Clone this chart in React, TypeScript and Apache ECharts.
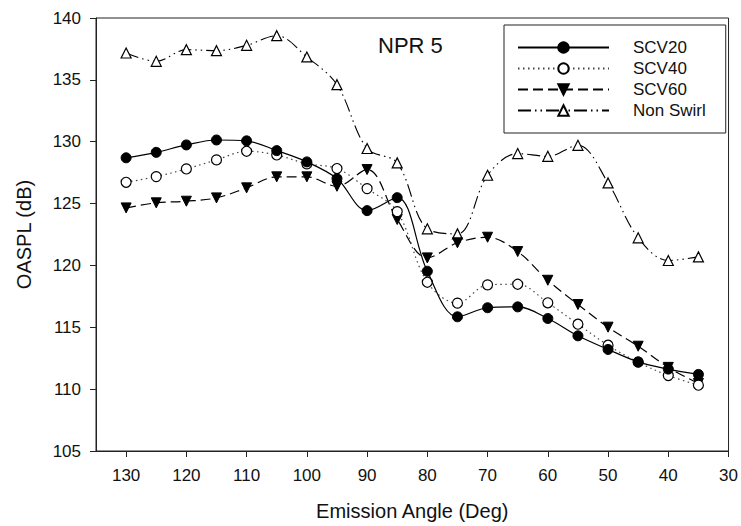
import React, { useEffect, useRef } from "react";
import * as echarts from "echarts";

const angles = [130, 125, 120, 115, 110, 105, 100, 95, 90, 85, 80, 75, 70, 65, 60, 55, 50, 45, 40, 35];
const scv20 = [128.7, 129.14, 129.74, 130.14, 130.07, 129.28, 128.37, 127.02, 124.43, 125.48, 119.53, 115.85, 116.58, 116.65, 115.71, 114.31, 113.21, 112.2, 111.62, 111.19];
const scv40 = [126.72, 127.18, 127.8, 128.53, 129.23, 128.93, 128.21, 127.83, 126.21, 124.35, 118.64, 116.95, 118.43, 118.48, 116.98, 115.25, 113.55, 112.18, 111.1, 110.32];
const scv60 = [124.65, 125.06, 125.19, 125.46, 126.27, 127.16, 127.16, 126.4, 127.75, 123.71, 120.61, 121.83, 122.28, 121.12, 118.8, 116.84, 115.01, 113.47, 111.76, 110.46];
const nonSwirl = [137.17, 136.5, 137.44, 137.36, 137.79, 138.57, 136.85, 134.61, 129.45, 128.29, 122.96, 122.55, 127.29, 129.04, 128.82, 129.71, 126.67, 122.23, 120.4, 120.69];
const xTicks = [130, 120, 110, 100, 90, 80, 70, 60, 50, 40, 30];
const seriesNames = ["SCV20", "SCV40", "SCV60", "Non Swirl"];

const FONT = "Liberation Sans, Arial, sans-serif";

export default function App() {
  const ref = useRef<HTMLDivElement>(null);
  useEffect(() => {
    if (!ref.current) return;
    const chart = echarts.init(ref.current, undefined, { renderer: "svg" });
    const pair = (vals: number[]) => angles.map((a, i) => [a, vals[i]]);
    const common = {
      type: "line",
      smooth: 0.35,
      symbolSize: 10,
      z: 3,
    };
    chart.setOption({
      animation: false,
      backgroundColor: "#fff",
      textStyle: { fontFamily: FONT },
      grid: {
        left: 96,
        top: 18,
        right: 12,
        bottom: 74,
        show: true,
        borderColor: "#222",
        borderWidth: 1,
      },
      title: {
        text: "NPR 5",
        left: 378,
        top: 34,
        padding: 0,
        textStyle: { fontFamily: FONT, fontSize: 22, fontWeight: "normal", color: "#111" },
      },
      legend: {
        orient: "vertical",
        left: 504,
        top: 25,
        padding: [14, 20, 14, 13],
        itemWidth: 91,
        itemHeight: 13,
        itemGap: 4,
        borderColor: "#222",
        borderWidth: 1,
        data: seriesNames,
        textStyle: { fontFamily: FONT, fontSize: 17, color: "#111", padding: [0, 0, 0, 19] },
      },
      xAxis: {
        type: "value",
        inverse: true,
        min: 30,
        max: 135,
        interval: 10,
        name: "Emission Angle (Deg)",
        nameLocation: "middle",
        nameGap: 50,
        nameTextStyle: { fontFamily: FONT, fontSize: 20, color: "#111" },
        splitLine: { show: false },
        axisLine: { lineStyle: { color: "#222", width: 1 } },
        axisTick: { show: true, length: 6, customValues: xTicks, lineStyle: { color: "#222" } },
        axisLabel: { customValues: xTicks, fontFamily: FONT, fontSize: 17, color: "#111", margin: 16 },
      },
      yAxis: {
        type: "value",
        min: 105,
        max: 140,
        interval: 5,
        name: "OASPL (dB)",
        nameLocation: "middle",
        nameGap: 62,
        nameTextStyle: { fontFamily: FONT, fontSize: 20, color: "#111" },
        splitLine: { show: false },
        axisLine: { show: true, lineStyle: { color: "#222", width: 1 } },
        axisTick: { show: true, length: 6, lineStyle: { color: "#222" } },
        axisLabel: { fontFamily: FONT, fontSize: 17, color: "#111", margin: 15 },
      },
      series: [
        {
          ...common,
          name: "SCV20",
          data: pair(scv20),
          symbol: "circle",
          itemStyle: { color: "#000", borderColor: "#000", borderWidth: 1 },
          lineStyle: { color: "#000", width: 1.2, type: "solid" },
          z: 5,
        },
        {
          ...common,
          name: "SCV40",
          data: pair(scv40),
          symbol: "circle",
          itemStyle: { color: "#fff", borderColor: "#000", borderWidth: 1.2 },
          lineStyle: { color: "#444", width: 1.2, type: [1.5, 3.5] },
          z: 4,
        },
        {
          ...common,
          name: "SCV60",
          data: pair(scv60),
          symbol: "triangle",
          symbolRotate: 180,
          itemStyle: { color: "#000", borderColor: "#000", borderWidth: 1 },
          lineStyle: { color: "#000", width: 1.2, type: [10, 5] },
          z: 3,
        },
        {
          ...common,
          name: "Non Swirl",
          data: pair(nonSwirl),
          symbol: "triangle",
          itemStyle: { color: "#fff", borderColor: "#000", borderWidth: 1.2 },
          lineStyle: { color: "#000", width: 1.1, type: [13, 4, 1.5, 4, 1.5, 4] },
          z: 2,
        },
      ],
    });
    return () => chart.dispose();
  }, []);
  return <div ref={ref} style={{ width: 741, height: 526, position: "absolute", left: 0, top: 0 }} />;
}
